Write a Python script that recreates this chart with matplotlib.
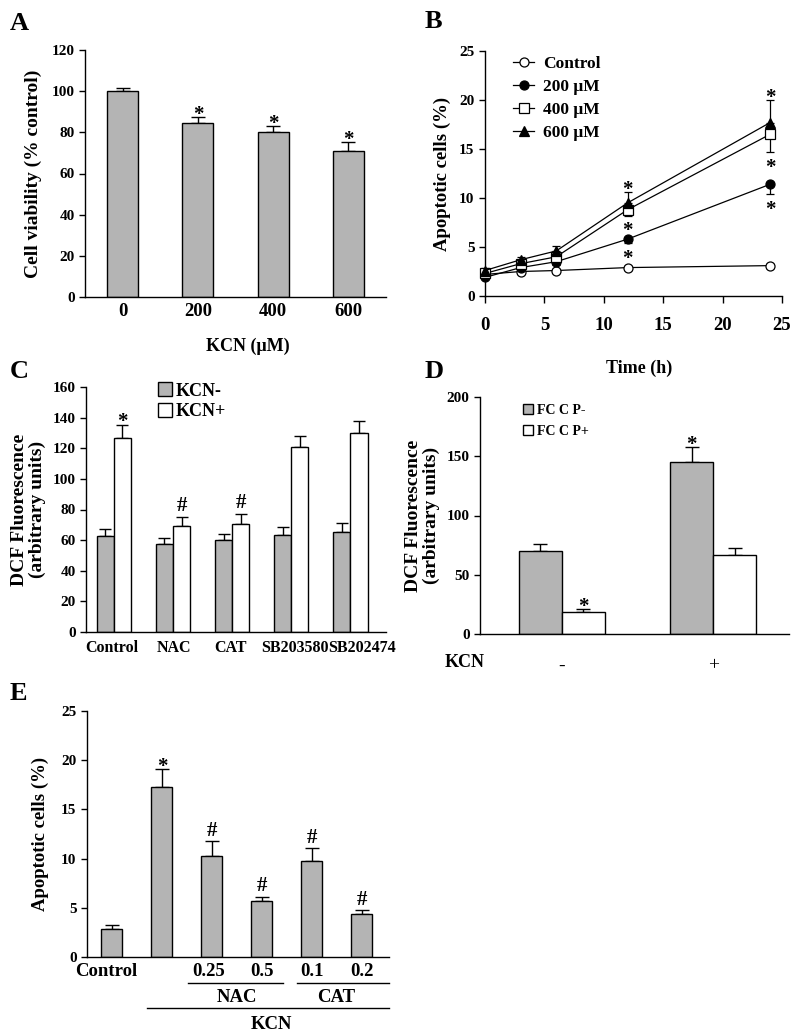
import matplotlib
matplotlib.use("Agg")
import matplotlib.pyplot as plt
from matplotlib.transforms import blended_transform_factory, ScaledTranslation

plt.rcParams['font.family'] = ['Liberation Serif', 'DejaVu Serif']
plt.rcParams['font.weight'] = 'bold'
plt.rcParams['axes.labelweight'] = 'bold'
plt.rcParams['axes.linewidth'] = 1.0

# ---- A: viabilidad ----
dosis = ['0', '200', '400', '600']
viabilidad = [100.1, 84.3, 80.2, 70.9]
viabilidad_err = [1.6, 3.2, 2.9, 4.5]
viabilidad_sig = ['', '*', '*', '*']

# ---- B: curso temporal ----
horas = [0, 3, 6, 12, 24]
apo_control = [2.2, 2.5, 2.6, 2.9, 3.1]
apo_200 = [1.9, 2.9, 3.5, 5.8, 11.4]
apo_400 = [2.3, 3.3, 4.0, 8.8, 16.5]
apo_600 = [2.6, 3.7, 4.6, 9.5, 17.7]
err_control = [0.2, 0.2, 0.2, 0.2, 0.2]
err_200 = [0.2, 0.3, 0.3, 0.4, 1.0]
err_400 = [0.2, 0.3, 0.4, 0.6, 1.8]
err_600 = [0.3, 0.3, 0.5, 1.1, 2.3]
sig_horas = [False, False, False, True, True]

# ---- C: DCF con inhibidores ----
tratamientos = ['Control', 'NAC', 'CAT', 'SB203580', 'SB202474']
dcf_menos = [62.7, 57.3, 59.9, 63.6, 65.4]
dcf_menos_err = [4.8, 4.4, 4.4, 5.0, 6.1]
dcf_mas = [126.4, 69.3, 70.8, 120.9, 130.0]
dcf_mas_err = [9.1, 5.9, 6.5, 7.1, 7.9]
dcf_mas_sig = ['*', '#', '#', '', '']

# ---- D: FCCP ----
kcn_grupos = ['-', '+']
fccp_menos = [70.4, 145.3]
fccp_menos_err = [5.6, 12.1]
fccp_mas = [18.5, 66.8]
fccp_mas_err = [2.5, 5.6]
fccp_menos_sig = ['', '*']
fccp_mas_sig = ['*', '']

# ---- E: antioxidantes ----
e_etiquetas = ['Control', '', '0.25', '0.5', '0.1', '0.2']
e_valores = [2.88, 17.3, 10.3, 5.7, 9.8, 4.4]
e_err = [0.34, 1.8, 1.45, 0.4, 1.25, 0.35]
e_sig = ['', '*', '#', '#', '#', '#']

GRIS = '#b4b4b4'
W, H = 800, 1036


def caja(x0, y0, x1, y1):
    return [x0 / W, 1 - y1 / H, (x1 - x0) / W, (y1 - y0) / H]


def estilo(ax):
    ax.spines['top'].set_visible(False)
    ax.spines['right'].set_visible(False)
    ax.tick_params(axis='y', direction='out', length=4, width=1, labelsize=11)


def marca(ax, x, y, s, arriba=True):
    if arriba:
        off = -2 if s == '*' else 4
    else:
        off = -15
    ax.annotate(s, (x, y), xytext=(0, off), textcoords='offset points',
                ha='center', va='baseline', fontsize=15, fontweight='bold')


def barras(ax, x, vals, err, color, ancho, capsize):
    ax.bar(x, vals, ancho, color=color, edgecolor='black', linewidth=1, zorder=2)
    ax.errorbar(x, vals, yerr=[[0] * len(vals), err], fmt='none', ecolor='black',
                elinewidth=1, capsize=capsize, capthick=1, zorder=1)


fig = plt.figure(figsize=(8, 10.36), dpi=100)

# ---------- A ----------
axA = fig.add_axes(caja(85, 50, 386, 297))
xA = list(range(len(dosis)))
barras(axA, xA, viabilidad, viabilidad_err, GRIS, 0.41, 5)
for i in xA:
    if viabilidad_sig[i]:
        marca(axA, i, viabilidad[i] + viabilidad_err[i], viabilidad_sig[i])
axA.set_xlim(-0.5, 3.5)
axA.set_ylim(0, 120)
axA.set_yticks(range(0, 121, 20))
axA.set_xticks(xA, dosis)
axA.tick_params(axis='x', length=0, labelsize=13.5, pad=4)
estilo(axA)
axA.set_ylabel('Cell viability (% control)', fontsize=14, labelpad=7)
axA.set_xlabel('KCN (\u03bcM)', fontsize=13)
axA.xaxis.set_label_coords(0.54, -0.165)

# ---------- B ----------
axB = fig.add_axes(caja(485, 51, 782, 296))
series = [
    ('Control', apo_control, err_control, 'o', 'white', 'both'),
    ('200 \u03bcM', apo_200, err_200, 'o', 'black', 'down'),
    ('400 \u03bcM', apo_400, err_400, 's', 'white', 'down'),
    ('600 \u03bcM', apo_600, err_600, '^', 'black', 'up'),
]
for nombre, vals, err, mk, fc, lado in series:
    baj = err if lado in ('both', 'down') else [0] * len(err)
    alt = err if lado in ('both', 'up') else [0] * len(err)
    axB.errorbar(horas, vals, yerr=[baj, alt], fmt='none', ecolor='black',
                 elinewidth=0.9, capsize=3, capthick=0.9, clip_on=False)
    axB.plot(horas, vals, color='black', linewidth=0.9, marker=mk, markersize=6.5,
             markerfacecolor=fc, markeredgecolor='black', markeredgewidth=0.9,
             label=nombre, clip_on=False, zorder=3)
    if nombre != 'Control':
        for t, v, e, s in zip(horas, vals, err, sig_horas):
            if s:
                if lado == 'up':
                    marca(axB, t, v + e, '*')
                else:
                    marca(axB, t, v - e, '*', arriba=False)
axB.set_xlim(0, 25)
axB.set_ylim(0, 25)
axB.set_xticks(range(0, 26, 5))
axB.set_yticks(range(0, 26, 5))
estilo(axB)
axB.tick_params(axis='x', direction='out', length=5, width=1, labelsize=13.5, pad=10)
axB.set_ylabel('Apoptotic cells (%)', fontsize=13.5, labelpad=6)
axB.set_xlabel('Time (h)', fontsize=13)
axB.xaxis.set_label_coords(0.52, -0.26)
axB.legend(loc='upper left', bbox_to_anchor=(0.055, 1.03), frameon=False, fontsize=12.5,
           handlelength=1.2, handletextpad=0.5, labelspacing=0.4, borderaxespad=0.3)

# ---------- C ----------
axC = fig.add_axes(caja(86, 387, 386, 632))
xC = list(range(len(tratamientos)))
anchoC = 0.29
xm = [x - anchoC / 2 for x in xC]
xp = [x + anchoC / 2 for x in xC]
barras(axC, xm, dcf_menos, dcf_menos_err, GRIS, anchoC, 4)
barras(axC, xp, dcf_mas, dcf_mas_err, 'white', anchoC, 4)
for i in xC:
    if dcf_mas_sig[i]:
        marca(axC, xp[i], dcf_mas[i] + dcf_mas_err[i], dcf_mas_sig[i])
axC.bar([0], [0], 0, color=GRIS, edgecolor='black', label='KCN-')
axC.bar([0], [0], 0, color='white', edgecolor='black', label='KCN+')
axC.set_xlim(-0.47, 4.6)
axC.set_ylim(0, 160)
axC.set_yticks(range(0, 161, 20))
axC.set_xticks(xC, tratamientos)
axC.tick_params(axis='x', length=0, labelsize=11.5, pad=6)
# desplazar las etiquetas largas para que no se pisen
for lab, dx in zip(axC.get_xticklabels(), [-2, 1, -2, 4, 12]):
    lab.set_transform(lab.get_transform() + ScaledTranslation(dx / 100, 0, fig.dpi_scale_trans))
estilo(axC)
axC.set_ylabel('DCF Fluorescence\n(arbitrary units)', fontsize=14, labelpad=5,
               linespacing=1.0)
axC.legend(loc='upper left', bbox_to_anchor=(0.185, 1.085), frameon=False, fontsize=13,
           handlelength=0.8, handleheight=0.8, handletextpad=0.2, labelspacing=0.2)

# ---------- D ----------
axD = fig.add_axes(caja(480, 397, 789, 634))
xD = list(range(len(kcn_grupos)))
anchoD = 0.285
xdm = [x - anchoD / 2 for x in xD]
xdp = [x + anchoD / 2 for x in xD]
barras(axD, xdm, fccp_menos, fccp_menos_err, GRIS, anchoD, 5)
barras(axD, xdp, fccp_mas, fccp_mas_err, 'white', anchoD, 5)
for i in xD:
    if fccp_menos_sig[i]:
        marca(axD, xdm[i], fccp_menos[i] + fccp_menos_err[i], fccp_menos_sig[i])
    if fccp_mas_sig[i]:
        marca(axD, xdp[i], fccp_mas[i] + fccp_mas_err[i], fccp_mas_sig[i])
axD.bar([0], [0], 0, color=GRIS, edgecolor='black', label='FC C P-')
axD.bar([0], [0], 0, color='white', edgecolor='black', label='FC C P+')
axD.set_xlim(-0.54, 1.5)
axD.set_ylim(0, 200)
axD.set_yticks(range(0, 201, 50))
axD.set_xticks(xD, kcn_grupos)
axD.tick_params(axis='x', length=0, labelsize=14, pad=17)
for lab in axD.get_xticklabels():
    lab.set_fontweight('normal')
estilo(axD)
axD.set_ylabel('DCF Fluorescence\n(arbitrary units)', fontsize=14, labelpad=5,
               linespacing=1.0)
axD.text(-0.05, -0.12, 'KCN', transform=axD.transAxes, ha='center', va='center',
         fontsize=13)
axD.legend(loc='upper left', bbox_to_anchor=(0.1, 1.025), frameon=False, fontsize=10,
           handlelength=0.7, handleheight=0.7, handletextpad=0.3, labelspacing=0.6)

# ---------- E ----------
axE = fig.add_axes(caja(87, 711, 389, 957))
xE = list(range(len(e_valores)))
barras(axE, xE, e_valores, e_err, GRIS, 0.42, 5)
for i in xE:
    if e_sig[i]:
        marca(axE, i, e_valores[i] + e_err[i], e_sig[i])
axE.set_xlim(-0.5, 5.55)
axE.set_ylim(0, 25)
axE.set_yticks(range(0, 26, 5))
axE.set_xticks(xE, e_etiquetas)
axE.tick_params(axis='x', length=0, labelsize=13.5, pad=4)
for lab, dx in zip(axE.get_xticklabels(), [-6, 0, -3, 0, 0, 0]):
    lab.set_transform(lab.get_transform() + ScaledTranslation(dx / 100, 0, fig.dpi_scale_trans))
estilo(axE)
axE.set_ylabel('Apoptotic cells (%)', fontsize=13.5, labelpad=9)
tr = blended_transform_factory(axE.transData, axE.transAxes)
grupos_E = [('NAC', 2, 3, -0.48, 0.42), ('CAT', 4, 5, -0.3, 0.55)]
for nombre, a, b, da, db in grupos_E:
    axE.plot([xE[a] + da, xE[b] + db], [-0.106, -0.106], color='black', lw=1,
             transform=tr, clip_on=False)
    axE.text((xE[a] + xE[b]) / 2, -0.163, nombre, transform=tr, ha='center',
             va='center', fontsize=13.5)
axE.plot([xE[1] - 0.3, xE[5] + 0.55], [-0.207, -0.207], color='black', lw=1,
         transform=tr, clip_on=False)
axE.text((xE[1] + xE[5]) / 2 + 0.2, -0.276, 'KCN', transform=tr, ha='center',
         va='center', fontsize=13.5)

# ---------- letras de panel ----------
for letra, x, y in [('A', 10, 30), ('B', 425, 28), ('C', 10, 378),
                    ('D', 425, 378), ('E', 10, 700)]:
    fig.text(x / W, 1 - y / H, letra, fontsize=19, fontweight='bold',
             ha='left', va='baseline')

fig.savefig('out.png', dpi=100)
